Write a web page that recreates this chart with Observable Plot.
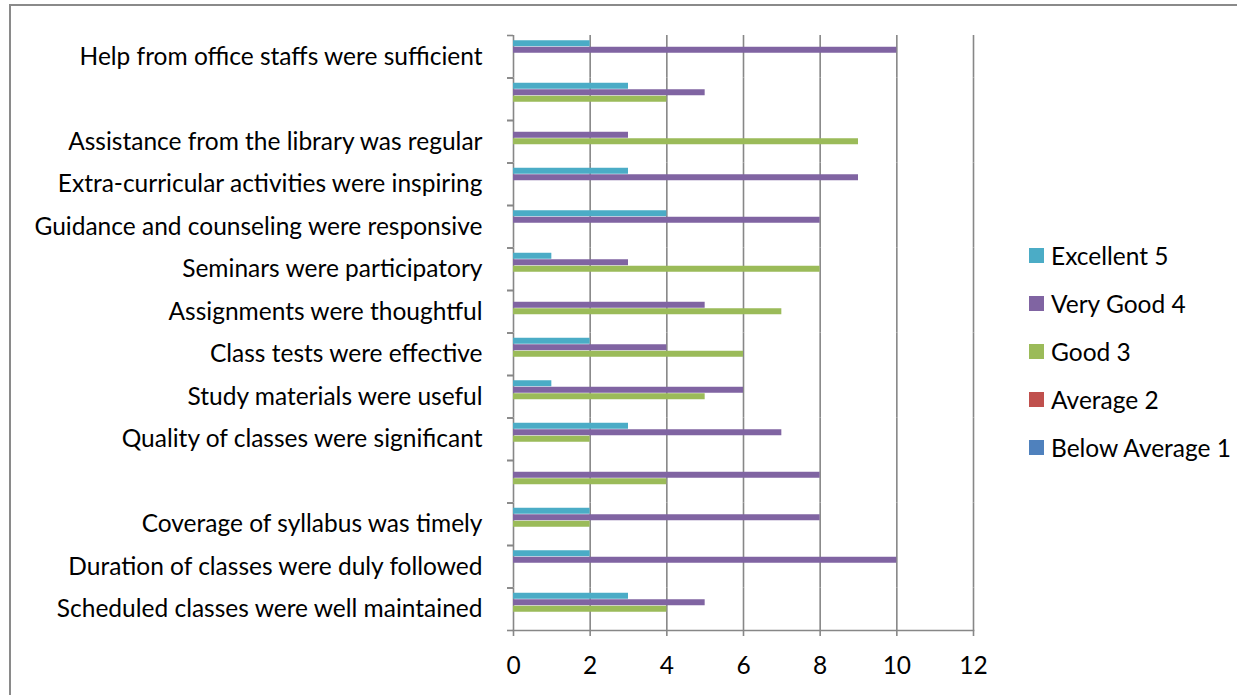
<!DOCTYPE html>
<html>
<head>
<meta charset="utf-8">
<script src="https://cdn.jsdelivr.net/npm/d3@7"></script>
<script src="https://cdn.jsdelivr.net/npm/@observablehq/plot@0.6"></script>
<style>
  html, body { margin: 0; padding: 0; background: #fff; }
  #wrap { position: relative; width: 1237px; height: 695px; overflow: hidden; font-family: Lato, "Noto Sans", sans-serif; }
  #border { position: absolute; left: 9px; top: 4px; width: 1300px; height: 800px; border: 2px solid #8a8a8a; box-sizing: border-box; }
  #chart { position: absolute; left: 0; top: 0; }
  #legend { position: absolute; left: 1029px; top: 231px; font-size: 24.5px; color: #000; }
  .row { height: 48px; display: flex; align-items: center; }
  .sw { width: 15px; height: 15px; margin-right: 7px; }
</style>
</head>
<body>
<div id="wrap">
  <div id="border"></div>
  <div id="chart"></div>
  <div id="legend"></div>
</div>
<script>
// Categories in data order (bottom of chart first)
const categories = [
  "Scheduled classes were well maintained",
  "Duration of classes were duly followed",
  "Coverage of syllabus was timely",
  "(unlabelled 1)",
  "Quality of classes were significant",
  "Study materials were useful",
  "Class tests were effective",
  "Assignments were thoughtful",
  "Seminars were participatory",
  "Guidance and counseling were responsive",
  "Extra-curricular activities were inspiring",
  "Assistance from the library was regular",
  "(unlabelled 2)",
  "Help from office staffs were sufficient"
];
const tickLabels = [
  "Scheduled classes were well maintained",
  "Duration of classes were duly followed",
  "Coverage of syllabus was timely",
  "",
  "Quality of classes were significant",
  "Study materials were useful",
  "Class tests were effective",
  "Assignments were thoughtful",
  "Seminars were participatory",
  "Guidance and counseling were responsive",
  "Extra-curricular activities were inspiring",
  "Assistance from the library was regular",
  "",
  "Help from office staffs were sufficient"
];
const seriesNames = ["Excellent 5", "Very Good 4", "Good 3", "Average 2", "Below Average 1"];
const seriesColors = ["#4BACC6", "#8064A2", "#9BBB59", "#C0504D", "#4F81BD"];
const excellent    = [3, 2, 2, 0, 3, 1, 2, 0, 1, 4, 3, 0, 3, 2];
const veryGood     = [5, 10, 8, 8, 7, 6, 4, 5, 3, 8, 9, 3, 5, 10];
const good         = [4, 0, 2, 4, 2, 5, 6, 7, 8, 0, 0, 9, 4, 0];
const average      = [0, 0, 0, 0, 0, 0, 0, 0, 0, 0, 0, 0, 0, 0];
const belowAverage = [0, 0, 0, 0, 0, 0, 0, 0, 0, 0, 0, 0, 0, 0];
const xTicks = [0, 2, 4, 6, 8, 10, 12];

const seriesValues = [excellent, veryGood, good, average, belowAverage];
const data = [];
categories.forEach((c, i) => {
  seriesNames.forEach((s, j) => {
    data.push({category: c, series: s, value: seriesValues[j][i]});
  });
});
const labelOf = new Map(categories.map((c, i) => [c, tickLabels[i]]));

const W = 1237, H = 695, mT = 35, mB = 65, mL = 513, mR = 264;
const band = (H - mT - mB) / categories.length;
const fyDomain = categories.slice().reverse();
const FS = 24.5;

const chart = Plot.plot({
  width: W, height: H,
  marginTop: mT, marginBottom: mB, marginLeft: mL, marginRight: mR,
  style: {fontFamily: "Lato, 'Noto Sans', sans-serif", color: "#000", background: "transparent"},
  x: {domain: [0, 12]},
  y: {domain: seriesNames, axis: null, paddingInner: 0, paddingOuter: 0.77, round: false},
  fy: {domain: fyDomain, padding: 0, label: null, round: false},
  color: {domain: seriesNames, range: seriesColors},
  marks: [
    Plot.gridX({ticks: xTicks, stroke: "#878787", strokeOpacity: 1, strokeWidth: 1.6}),
    Plot.barX(data.filter(d => d.value > 0), {
      x: "value", y: "series", fy: "category", fill: "series",
      insetTop: 0.25, insetBottom: 0.25
    }),
    Plot.axisFy({anchor: "left", label: null, tickSize: 6, text: null, stroke: "#878787", strokeWidth: 1.6, dy: -band / 2}),
    Plot.axisFy({anchor: "left", label: null, tickSize: 6, text: null, stroke: "#878787", strokeWidth: 1.6, dy: band / 2}),
    Plot.axisFy({anchor: "left", label: null, tickSize: 0, tickPadding: 31,
      tickFormat: d => labelOf.get(d), fontSize: FS, fill: "#000", dy: 0}),
    Plot.frame({anchor: "bottom", facetAnchor: "bottom", stroke: "#878787", strokeWidth: 1.6}),
    Plot.axisX({ticks: xTicks, label: null, tickSize: 6, tickPadding: 20, fontSize: FS, stroke: "#878787", strokeWidth: 1.6, fill: "#000"})
  ]
});
document.getElementById("chart").appendChild(chart);

const legend = document.getElementById("legend");
seriesNames.forEach((s, j) => {
  const row = document.createElement("div");
  row.className = "row";
  const sw = document.createElement("div");
  sw.className = "sw";
  sw.style.background = seriesColors[j];
  const t = document.createElement("span");
  t.textContent = s;
  row.appendChild(sw);
  row.appendChild(t);
  legend.appendChild(row);
});
</script>
</body>
</html>
